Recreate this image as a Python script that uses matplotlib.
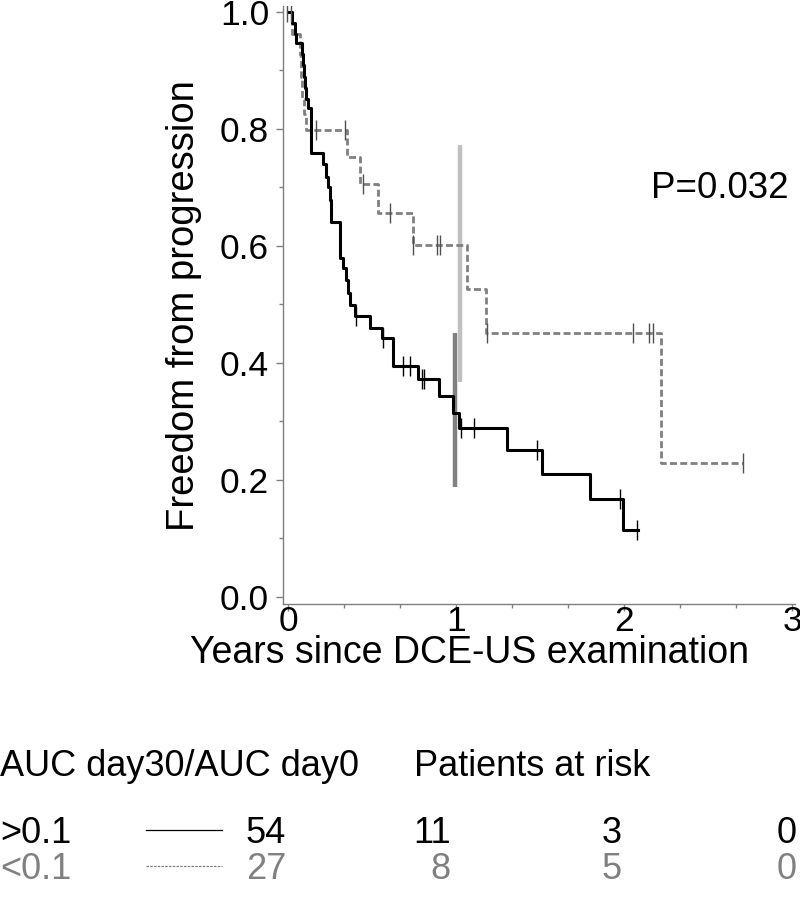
import matplotlib
matplotlib.use('Agg')
import matplotlib.pyplot as plt
from matplotlib.lines import Line2D
from matplotlib.ticker import MultipleLocator
import numpy as np

plt.rcParams['font.family'] = ['Liberation Sans', 'DejaVu Sans']

# ---------------- data ----------------
# group AUC day30/AUC day0 > 0.1 (solid black)
hi_times = [0.0, 0.024, 0.042, 0.048, 0.083, 0.090, 0.095, 0.100, 0.107, 0.120,
            0.137, 0.208, 0.226, 0.238, 0.250, 0.256, 0.310, 0.327, 0.345, 0.357,
            0.369, 0.399, 0.488, 0.560, 0.625, 0.774, 0.899, 0.982, 1.018, 1.304,
            1.512, 1.798, 1.994]
hi_surv = [1.0, 0.981, 0.963, 0.947, 0.928, 0.909, 0.889, 0.870, 0.852, 0.836,
           0.759, 0.740, 0.718, 0.700, 0.679, 0.641, 0.580, 0.562, 0.542, 0.520,
           0.499, 0.480, 0.460, 0.443, 0.395, 0.373, 0.344, 0.315, 0.289, 0.251,
           0.210, 0.167, 0.114]
hi_end = 2.083
hi_cens = [0.405, 0.565, 0.685, 0.726, 0.798, 0.810, 1.030, 1.107, 1.482, 1.976, 2.077]

# group AUC day30/AUC day0 < 0.1 (dashed grey)
lo_times = [0.0, 0.024, 0.071, 0.077, 0.083, 0.095, 0.107, 0.351, 0.429, 0.536,
            0.744, 1.065, 1.179, 2.220]
lo_surv = [1.0, 0.963, 0.926, 0.889, 0.852, 0.825, 0.798, 0.752, 0.706, 0.657,
           0.602, 0.526, 0.451, 0.229]
lo_end = 2.71
lo_cens = [-0.006, 0.015, 0.167, 0.339, 0.446, 0.607, 0.744, 0.887, 0.905, 1.185,
           2.054, 2.149, 2.173, 2.708]

# confidence interval bars near 1 year
ci_t = [0.994, 1.024]
ci_low = [0.188, 0.368]
ci_high = [0.451, 0.773]
ci_colors = ['#808080', '#c0c0c0']

group_labels = ['>0.1', '<0.1']
risk_hi = [54, 11, 3, 0]
risk_lo = [27, 8, 5, 0]
p_text = 'P=0.032'

W, H = 800, 905
fig = plt.figure(figsize=(W / 100, H / 100), dpi=100)

def fx(px):
    return px / W

def fy(py):
    return 1 - py / H

ax = fig.add_axes([fx(283), fy(604), fx(795.4) - fx(283), fy(6.15) - fy(604)])
ax.set_xlim(-0.03, 3.02)
ax.set_ylim(-0.012, 1.01)

def step_xy(times, surv, end):
    return list(times) + [end], list(surv) + [surv[-1]]

def surv_at(times, surv, t):
    i = np.searchsorted(times, t, side='right') - 1
    i = max(i, 0)
    return surv[i]

# CI bars
for t, lo, hi, c in zip(ci_t, ci_low, ci_high, ci_colors):
    ax.plot([t, t], [lo, hi], color=c, lw=3.2, solid_capstyle='butt', zorder=1)

x, y = step_xy(lo_times, lo_surv, lo_end)
ax.step(x, y, where='post', color='#808080', lw=2.0, linestyle=(0, (2.5, 1.2)), zorder=2)
x, y = step_xy(hi_times, hi_surv, hi_end)
ax.step(x, y, where='post', color='black', lw=2.2, zorder=3)

for t in hi_cens:
    ax.plot([t], [surv_at(hi_times, hi_surv, t)], marker='|', ms=14, mew=1.0,
            color='black', zorder=4)
for t in lo_cens:
    ax.plot([t], [surv_at(lo_times, lo_surv, t)], marker='|', ms=14, mew=1.0,
            color='#505050', zorder=4)

for s in ['top', 'right']:
    ax.spines[s].set_visible(False)
for s in ['left', 'bottom']:
    ax.spines[s].set_color('#808080')
    ax.spines[s].set_linewidth(1.0)

ax.set_xticks([0, 1, 2, 3])
ax.xaxis.set_minor_locator(MultipleLocator(1 / 3))
ax.set_yticks([0, 0.2, 0.4, 0.6, 0.8, 1.0])
ax.set_yticklabels(['0.0', '0.2', '0.4', '0.6', '0.8', '1.0'])
ax.yaxis.set_minor_locator(MultipleLocator(0.1))
ax.tick_params(which='major', direction='out', length=5, width=1, color='#808080',
               labelsize=25.5, labelcolor='black')
ax.tick_params(which='minor', direction='out', length=3, width=1, color='#808080')
ax.tick_params(axis='y', pad=5)
ax.tick_params(axis='x', pad=-4.5)

fs = 26
fig.text(fx(184), fy(306), 'Freedom from progression', rotation=90,
         ha='center', va='center', fontsize=27.5)
fig.text(fx(470), fy(663), 'Years since DCE-US examination',
         ha='center', va='baseline', fontsize=27)
fig.text(fx(789), fy(198), p_text, ha='right', va='baseline', fontsize=26.5)

# risk table
fig.text(fx(0), fy(776), 'AUC day30/AUC day0', ha='left', va='baseline', fontsize=fs)
fig.text(fx(414), fy(776), 'Patients at risk', ha='left', va='baseline', fontsize=fs)

row_base = [843, 879]
row_col = ['black', '#808080']
risk_rows = [risk_hi, risk_lo]
num_x = [286, 451, 622, 797]
for gl, rb, rc, rr, ls in zip(group_labels, row_base, row_col, risk_rows, ['-', (0, (2, 1))]):
    fig.text(fx(0), fy(rb), gl, ha='left', va='baseline', fontsize=fs, color=rc)
    fig.add_artist(Line2D([fx(146), fx(222)], [fy(rb - 13), fy(rb - 13)], color=rc,
                          lw=0.9, linestyle=ls))
    for n, nx in zip(rr, num_x):
        fig.text(fx(nx), fy(rb), str(n), ha='right', va='baseline', fontsize=fs, color=rc)

fig.savefig('out.png', dpi=100)
